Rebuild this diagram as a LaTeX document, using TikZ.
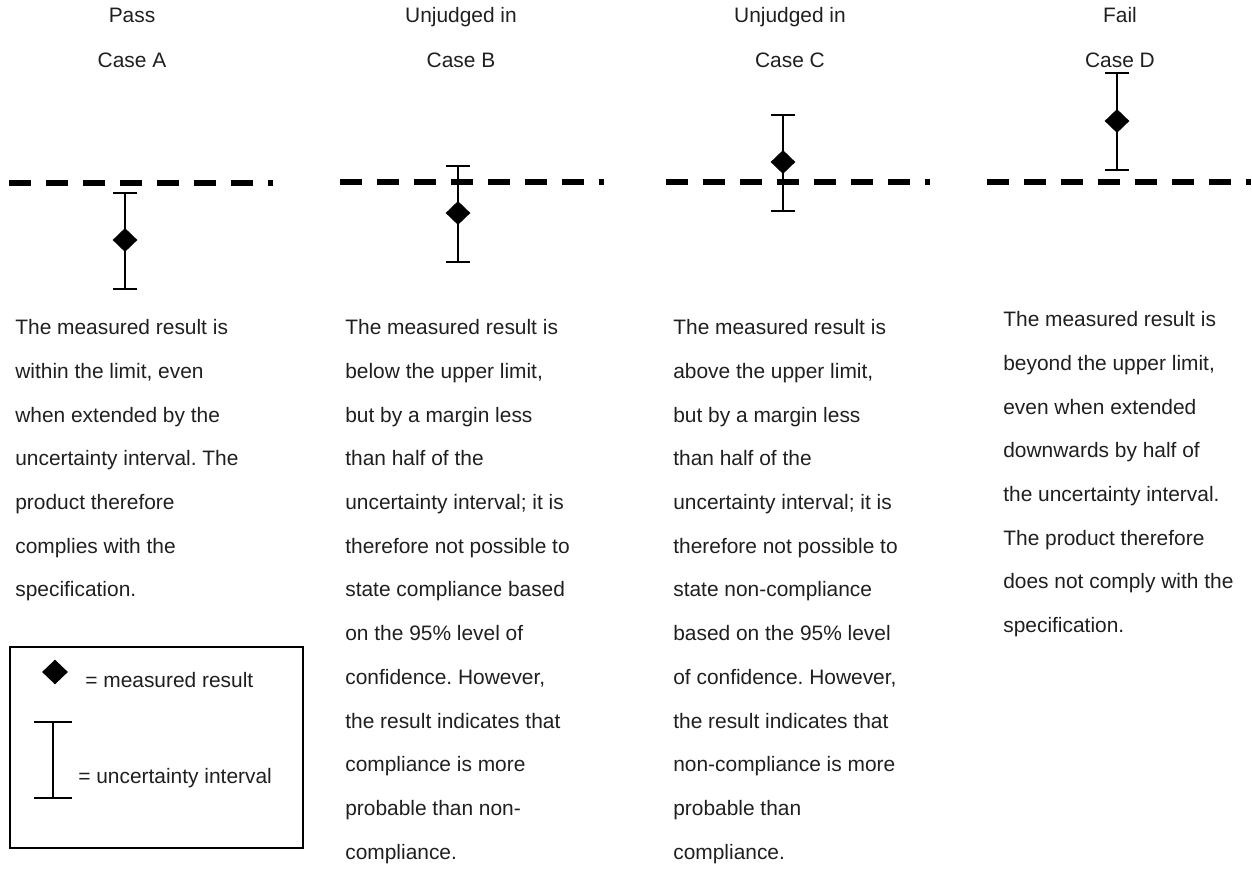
\documentclass[tikz,border=0pt]{standalone}
\usepackage{fontspec}
\setmainfont{Liberation Sans}
\usetikzlibrary{shapes.geometric}
\frenchspacing
\begin{document}
\begin{tikzpicture}[x=0.02cm,y=-0.02cm]
\tikzstyle{txt} = [inner sep=0pt, text=black!88, font=\fontsize{11.9}{24.9}\selectfont];
\tikzstyle{para} = [txt, align=left, anchor=north west];
\tikzstyle{limit} = [line width=2.85pt, dash pattern=on 12.35pt off 8.7pt];
\tikzstyle{bar} = [line width=1.2pt];
\tikzstyle{result} = [diamond, fill=black, inner sep=0pt, minimum width=14.2pt, minimum height=13.7pt];

\useasboundingbox (0,0) rectangle (1252,872);

% headings
\foreach \x/\n/\a/\b in {132/A/Pass/Case A, 461/B/Unjudged in/Case B, 790/C/Unjudged in/Case C, 1120/D/Fail/Case D} {
	\node[txt, anchor=base] (head-\n) at (\x,23) {\a};
	\node[txt, anchor=base] (case-\n) at (\x,68) {\b};
}

% upper limit and measured result with its interval
\foreach \n/\s/\l/\x/\t/\m/\b in {A/9/183/125/193/240/289, B/340/182/458/166/213/262, C/666/182/783/115/162/211, D/987/182/1117/73/121/170} {
	\draw[limit] (\s,\l) -- (\s+264,\l);
	\coordinate (hi-\n) at (\x,\t);
	\coordinate (lo-\n) at (\x,\b);
	\draw[bar] (hi-\n) -- (lo-\n);
	\draw[bar] (\x-12,\t) -- (\x+12,\t);
	\draw[bar] (\x-12,\b) -- (\x+12,\b);
	\node[result] (res-\n) at (\x,\m) {};
}

\node[para] (text-A) at (15,319) {The measured result is\\within the limit, even\\when extended by the\\uncertainty interval. The\\product therefore\\complies with the\\specification.};
\node[para] (text-B) at (345,319) {The measured result is\\below the upper limit,\\but by a margin less\\than half of the\\uncertainty interval; it is\\therefore not possible to\\state compliance based\\on the 95\% level of\\confidence. However,\\the result indicates that\\compliance is more\\probable than non-\\compliance.};
\node[para] (text-C) at (673,319) {The measured result is\\above the upper limit,\\but by a margin less\\than half of the\\uncertainty interval; it is\\therefore not possible to\\state non-compliance\\based on the 95\% level\\of confidence. However,\\the result indicates that\\non-compliance is more\\probable than\\compliance.};
\node[para] (text-D) at (1003,311) {The measured result is\\beyond the upper limit,\\even when extended\\downwards by half of\\the uncertainty interval.\\The product therefore\\does not comply with the\\specification.};

% key
\draw[line width=0.8pt] (10,647) rectangle (303,848);
\node[result, minimum width=14.8pt, minimum height=14.2pt] (key-res) at (55,672) {};
\node[txt, anchor=base west] (key-res-txt) at (85,687) {= measured result};
\draw[bar] (53,722) -- (53,798);
\draw[bar] (34,722) -- (72,722);
\draw[bar] (34,798) -- (72,798);
\node[txt, anchor=base west] (key-bar-txt) at (78,783) {= uncertainty interval};
\end{tikzpicture}
\end{document}
